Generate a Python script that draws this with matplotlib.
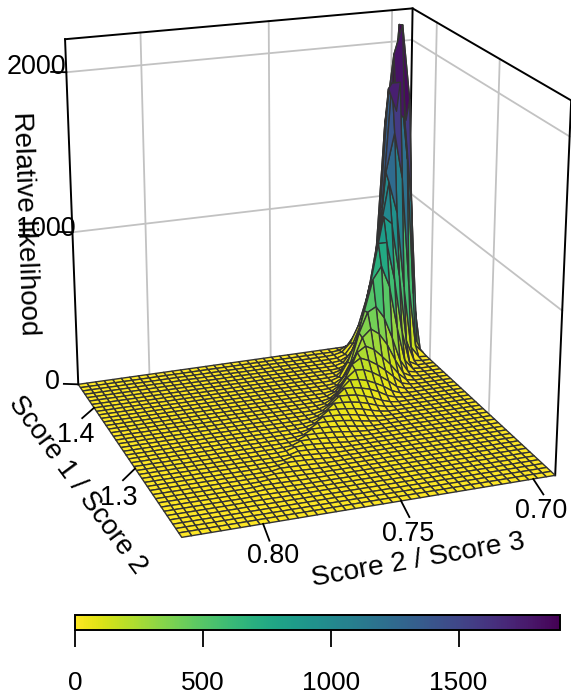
import numpy as np
import matplotlib
matplotlib.use("Agg")
import matplotlib.pyplot as plt
from mpl_toolkits.mplot3d.art3d import Poly3DCollection

plt.rcParams["font.family"] = ["Liberation Sans", "DejaVu Sans"]

# axis ranges and ticks
score23_lim = (0.8285, 0.6915)  # reversed, as in the picture
score12_lim = (1.2, 1.442)
lik_lim = (0, 2200)
score23_ticks = [0.80, 0.75, 0.70]
score12_ticks = [1.3, 1.4]
lik_ticks = [0, 1000, 2000]
cbar_ticks = [0, 500, 1000, 1500]
cbar_max = 1897
n_cells = 40

# non zero part of the surface, one row per score12 step from the back
ridge_first_col = [0, 0, 0, 0, 0, 0, 1, 2, 3, 3, 3, 4, 5, 5, 6, 7, 8, 9, 10, 11, 12, 13, 14,
                   15, 16, 18, 19, 20, 21, 22, 23, 24, 25, 26, 28, 29, 31]
ridge_rows = [
    [500, 900, 1100, 700, 350, 200, 60, 10],
    [600, 1500, 2120, 1400, 850, 440, 230, 100, 30, 5],
    [100, 1650, 2130, 1950, 1500, 550, 360, 180, 70, 15, 3],
    [40, 1000, 1550, 1600, 1750, 800, 480, 220, 90, 20, 3],
    [10, 400, 1300, 1800, 1800, 1000, 550, 330, 100, 30, 5],
    [3, 60, 500, 1200, 1500, 1250, 620, 400, 200, 80, 15],
    [5, 80, 500, 1000, 1200, 900, 540, 300, 110, 20, 3],
    [8, 150, 600, 950, 1000, 720, 430, 220, 90, 15, 2],
    [30, 250, 600, 850, 850, 570, 330, 150, 45, 5],
    [5, 70, 300, 580, 720, 640, 440, 240, 110, 20, 2],
    [3, 15, 100, 260, 400, 480, 450, 320, 130, 35, 5],
    [5, 35, 130, 240, 320, 360, 310, 180, 80, 15, 2],
    [10, 60, 130, 190, 245, 275, 240, 110, 40, 8],
    [3, 18, 70, 120, 165, 200, 225, 190, 80, 25, 4],
    [5, 25, 70, 110, 145, 170, 175, 130, 50, 12, 2],
    [6, 28, 65, 95, 120, 135, 140, 90, 35, 8, 1],
    [8, 28, 60, 85, 100, 112, 115, 70, 22, 5],
    [8, 26, 50, 70, 85, 92, 95, 50, 15, 3],
    [8, 24, 44, 60, 70, 76, 78, 35, 10, 2],
    [8, 22, 38, 50, 58, 63, 65, 25, 7, 1],
    [7, 19, 32, 42, 48, 52, 54, 18, 4, 1],
    [6, 16, 27, 35, 40, 44, 45, 12, 2],
    [5, 13, 22, 29, 34, 37, 38, 9, 2],
    [4, 10, 18, 24, 28, 31, 32, 7, 1],
    [4, 8, 14, 20, 24, 26, 27, 5, 1],
    [6, 11, 16, 20, 22, 20, 4],
    [5, 9, 13, 16, 18, 3],
    [4, 8, 11, 14, 15, 2],
    [3, 6, 9, 11, 12, 2],
    [3, 5, 7, 9, 10, 1],
    [2, 4, 6, 7, 8, 1],
    [2, 3, 4, 5, 6, 1],
    [1, 2, 3, 4, 5, 1],
    [1, 2, 3, 4, 1],
    [1, 2, 3, 1],
    [1, 1, 2, 1],
    [1, 1],
]

W, H = 571, 698
fig = plt.figure(figsize=(W / 100, H / 100), dpi=100)
ax = fig.add_axes([-23.67 / W, 115.3 / H, 641.4 / W, 641.4 / H], projection="3d")
ax.computed_zorder = False
ax.set_axis_off()
ax.patch.set_alpha(0)

x_min, x_max = score23_lim[1], score23_lim[0]
y_min, y_max = score12_lim
z_top = lik_lim[1]

# back walls
grid_col = "#c2c2c2"
for t in score23_ticks:
    ax.plot([t, t], [y_max, y_max], [0, z_top], color=grid_col, lw=1.3, zorder=1)
for t in score12_ticks:
    ax.plot([x_min, x_min], [t, t], [0, z_top], color=grid_col, lw=1.3, zorder=1)
for t in lik_ticks[1:]:
    ax.plot([x_max, x_min, x_min], [y_max, y_max, y_min], [t, t, t], color=grid_col, lw=1.3, zorder=1)

# box
for xs, ys, zs in [
    ([x_max, x_min, x_min], [y_max, y_max, y_min], [z_top, z_top, z_top]),
    ([x_max, x_max], [y_max, y_max], [0, z_top]),
    ([x_min, x_min], [y_max, y_max], [0, z_top]),
    ([x_min, x_min], [y_min, y_min], [0, z_top]),
]:
    ax.plot(xs, ys, zs, color="black", lw=1.4, zorder=2, clip_on=False)

# surface
x_grid = np.linspace(x_min, x_max, n_cells + 1)
y_grid = np.linspace(y_max, y_min, n_cells + 1)
Z = np.zeros((n_cells + 1, n_cells + 1))
for j, (first, row) in enumerate(zip(ridge_first_col, ridge_rows)):
    Z[j, first:first + len(row)] = row

polys = []
vals = []
for j in range(n_cells):
    for i in range(n_cells):
        polys.append([(x_grid[i], y_grid[j], Z[j, i]), (x_grid[i + 1], y_grid[j], Z[j, i + 1]),
                      (x_grid[i + 1], y_grid[j + 1], Z[j + 1, i + 1]), (x_grid[i], y_grid[j + 1], Z[j + 1, i])])
        vals.append(Z[j:j + 2, i:i + 2].mean())
cmap = plt.get_cmap("viridis_r")
norm = plt.Normalize(0, cbar_max)
surf = Poly3DCollection(polys, facecolors=cmap(norm(vals)), edgecolors="#333333", linewidths=1.0, zorder=3)
surf.set_clip_on(False)
ax.add_collection3d(surf)

# tick marks, they do not follow the box edges in the picture
for t in score23_ticks:
    ax.plot([t, t + 0.002], [y_min, y_min - 0.0218], [0, 0], color="black", lw=1.3, zorder=4, clip_on=False)
for t in score12_ticks:
    ax.plot([x_max, x_max + 0.0066], [t, t - 0.0137], [0, 0], color="black", lw=1.3, zorder=4, clip_on=False)
for t in lik_ticks:
    ax.plot([x_max, x_max + 0.0051], [y_max, y_max + 0.0042], [t, t], color="black", lw=1.3, zorder=4, clip_on=False)

ax.set_xlim(*score23_lim)
ax.set_ylim(*score12_lim)
ax.set_zlim(*lik_lim)
ax.view_init(20.032, -110.088)
ax.set_proj_type("persp", focal_length=0.6387)
ax.set_box_aspect((1.0023, 0.9918, 1.0))

# texts
fs = 18.9


def label(x, y, s, rot=0, size=19.4):
    fig.text(x / W, 1 - y / H, s, fontsize=size, ha="center", va="center", rotation=rot,
             rotation_mode="anchor", color="black")


label(36.5, 67, "2000")
label(46, 229, "1000")
label(52, 382, "0")
label(76, 435, "1.4")
label(119, 498, "1.3")
label(273, 556, "0.80")
label(408, 534, "0.75")
label(541, 511, "0.70")
label(418, 560, "Score 2 / Score 3", 10, 20.2)
label(77, 485, "Score 1 / Score 2", -53.5, 20)
label(25, 224, "Relative likelihood", -88, 20)

# colour bar
cax = fig.add_axes([75 / W, 1 - 630 / H, 485 / W, 15 / H])
bar = fig.colorbar(plt.cm.ScalarMappable(norm=norm, cmap=cmap), cax=cax, orientation="horizontal")
bar.set_ticks(cbar_ticks)
bar.outline.set_linewidth(1.4)
cax.tick_params(axis="x", length=12.2, width=1.3, pad=17, labelsize=fs, labelcolor="black")

fig.savefig("out.png", dpi=100)
